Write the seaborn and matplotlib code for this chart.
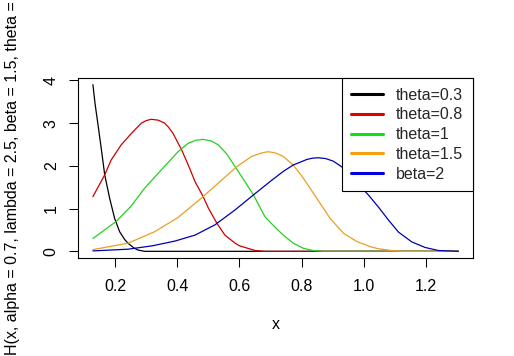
import matplotlib
matplotlib.use("Agg")
import matplotlib.pyplot as plt
from matplotlib.lines import Line2D
import seaborn as sns

# curves (x, H(x))
black_x = [0.128, 0.135, 0.146, 0.155, 0.166, 0.182, 0.198, 0.214, 0.23, 0.241, 0.26, 0.273, 0.295, 1.305]
black_y = [3.90, 3.45, 2.88, 2.40, 1.79, 1.24, 0.77, 0.46, 0.28, 0.19, 0.08, 0.03, 0.0, 0.0]

red_x = [0.128, 0.166, 0.187, 0.219, 0.252, 0.284, 0.30, 0.316, 0.338, 0.359, 0.372, 0.386, 0.414, 0.435,
         0.457, 0.483, 0.50, 0.527, 0.553, 0.586, 0.60, 0.618, 0.65, 0.68, 1.305]
red_y = [1.28, 1.79, 2.14, 2.49, 2.76, 3.0, 3.06, 3.09, 3.07, 3.0, 2.90, 2.76, 2.37, 2.02,
         1.63, 1.28, 1.01, 0.66, 0.38, 0.19, 0.13, 0.09, 0.02, 0.0, 0.0]

green_x = [0.128, 0.203, 0.25, 0.295, 0.35, 0.402, 0.435, 0.46, 0.483, 0.51, 0.532, 0.56, 0.586, 0.615,
           0.645, 0.682, 0.715, 0.741, 0.773, 0.806, 0.837, 0.87, 1.305]
green_y = [0.30, 0.70, 1.05, 1.48, 1.92, 2.33, 2.53, 2.60, 2.62, 2.58, 2.49, 2.27, 1.98, 1.66,
           1.32, 0.81, 0.56, 0.38, 0.19, 0.07, 0.02, 0.0, 0.0]

orange_x = [0.128, 0.241, 0.327, 0.402, 0.483, 0.543, 0.591, 0.639, 0.67, 0.69, 0.704, 0.72, 0.741,
            0.773, 0.806, 0.849, 0.892, 0.935, 0.978, 1.021, 1.047, 1.09, 1.12, 1.305]
orange_y = [0.04, 0.19, 0.46, 0.79, 1.28, 1.67, 1.98, 2.22, 2.30, 2.33, 2.32, 2.29, 2.22,
            2.02, 1.71, 1.24, 0.77, 0.42, 0.23, 0.11, 0.06, 0.02, 0.0, 0.0]

blue_x = [0.128, 0.241, 0.32, 0.392, 0.457, 0.521, 0.586, 0.645, 0.698, 0.741, 0.773, 0.817, 0.835,
          0.854, 0.878, 0.902, 0.929, 0.97, 1.015, 1.047, 1.08, 1.112, 1.155, 1.198, 1.24, 1.305]
blue_y = [0.01, 0.05, 0.13, 0.24, 0.38, 0.62, 0.97, 1.32, 1.63, 1.87, 2.02, 2.15, 2.18,
          2.19, 2.17, 2.11, 1.98, 1.67, 1.32, 1.04, 0.73, 0.45, 0.22, 0.09, 0.02, 0.0]

labels = ["theta=0.3", "theta=0.8", "theta=1", "theta=1.5", "beta=2"]
line_colors = ["#000000", "#cc0000", "#22d022", "#e8a020", "#0000b0"]
legend_colors = ["#000000", "#e00000", "#10e010", "#f5a010", "#0000e0"]

sns.set_style("white")
plt.rcParams["font.family"] = ["Liberation Sans", "DejaVu Sans"]
fs = 11.5

fig = plt.figure(figsize=(5.14, 3.56), dpi=100)
ax = fig.add_axes([78 / 514, 98 / 356, 395 / 514, 180 / 356])

curves = [(black_x, black_y), (red_x, red_y), (green_x, green_y),
          (orange_x, orange_y), (blue_x, blue_y)]
for (cx, cy), col in zip(curves, line_colors):
    sns.lineplot(x=cx, y=cy, color=col, linewidth=0.9, estimator=None,
                 sort=False, legend=False, ax=ax)

ax.set_xlim(0.08, 1.352)
ax.set_ylim(-0.156, 4.056)
ax.set_xticks([0.2, 0.4, 0.6, 0.8, 1.0, 1.2])
ax.set_xticklabels(["0.2", "0.4", "0.6", "0.8", "1.0", "1.2"])
ax.set_yticks([0, 1, 2, 3, 4])

for s in ax.spines.values():
    s.set_color("black")
    s.set_linewidth(0.8)

ax.tick_params(axis="both", direction="out", length=6.8, width=0.75,
               color="black", labelsize=fs, labelcolor="black")
ax.tick_params(axis="x", pad=8, bottom=True)
ax.tick_params(axis="y", pad=7, left=True, labelrotation=90)
for t in ax.get_yticklabels():
    t.set_va("center")

ax.set_xlabel("x", fontsize=fs, color="black")
ax.xaxis.set_label_coords(0.5, -0.33)
ax.set_ylabel("H(x, alpha = 0.7, lambda = 2.5, beta = 1.5, theta = 0.3)",
              fontsize=fs, color="black")
ax.yaxis.set_label_coords(-0.147, 0.533)

handles = [Line2D([], [], color=c, linewidth=2.2) for c in legend_colors]
leg = ax.legend(handles, labels, loc="upper right", bbox_to_anchor=(1, 1),
                borderaxespad=0, fontsize=fs, frameon=True, fancybox=False,
                framealpha=1, edgecolor="black", handlelength=2.0,
                handletextpad=0.8, borderpad=0.6, labelspacing=0.3)
leg.get_frame().set_linewidth(0.8)

fig.savefig("out.png", dpi=100)
